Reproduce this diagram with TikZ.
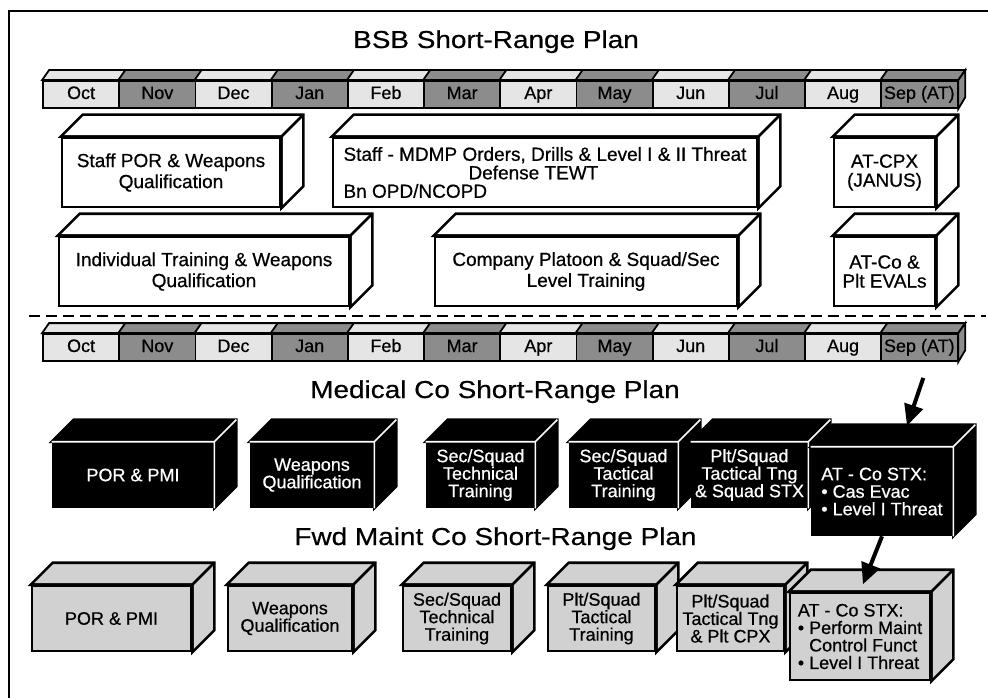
\documentclass[tikz,border=0pt]{standalone}
\usepackage{fontspec}
\setmainfont{Liberation Sans}[FakeBold=0.6]
\newfontfamily\titlefamily[FakeStretch=1.14, FakeBold=0.5]{Liberation Sans}
\usetikzlibrary{arrows.meta,positioning,calc}

\colorlet{lgray}{black!10}
\colorlet{dgray}{black!45}
\colorlet{fgray}{black!18}
\colorlet{cell1}{lgray}
\colorlet{cell0}{dgray}

\newcommand{\topfnt}{\fontsize{19}{21}\selectfont}
\newcommand{\lowfnt}{\fontsize{18}{17.5}\selectfont}
\newcommand{\monthfnt}{\fontsize{18}{20}\selectfont}
\newcommand{\titlefnt}{\titlefamily\fontsize{24.5}{28}\selectfont}

% side and top face of a box, drawn after its front node
\newcommand{\boxfaces}[3]{%
  \filldraw[#2] (#1.north west) -- ++(22,-22) -- ($(#1.north east)+(22,-22)$)
    -- ($(#1.south east)+(22,-22)$) -- (#1.south east) -- (#1.north east) -- cycle;
  \draw[#3] (#1.north west) -- (#1.north east) -- (#1.south east)
    (#1.north east) -- ++(22,-22);}

\begin{document}
\begin{tikzpicture}[x=1pt, y=-1pt, >=Stealth,
    title/.style={anchor=base, font=\titlefnt},
    month/.style={draw, line width=1.8pt, minimum width=76.2, minimum height=27, inner sep=0pt,
      text height=12.5pt, text depth=3.5pt, font=\monthfnt},
    monthedge/.style={draw=black, line width=1.8pt},
    wbox/.style={draw, fill=white, line width=2.6pt, inner sep=0pt, align=center, font=\topfnt, minimum height=69},
    wface/.style={fill=white, draw=black, line width=2.6pt},
    wedge/.style={draw=black, line width=2.6pt},
    medbox/.style={draw, fill=black, text=white, line width=2.6pt, inner sep=0pt, align=center, font=\lowfnt, minimum height=64},
    medface/.style={fill=black, draw=black, line width=2.6pt},
    medge/.style={draw=white, line width=1.6pt},
    fwdbox/.style={draw, fill=fgray, line width=2.6pt, inner sep=0pt, align=center, font=\lowfnt, minimum height=65},
    fwdface/.style={fill=fgray, draw=black, line width=2.6pt},
    bigarrow/.style={-{Triangle[length=21pt,width=19pt]}, line width=4pt}]
  \useasboundingbox (0,0) rectangle (988,698);
  \draw[line width=2.8pt] (9,700) -- (9,11) -- (990,11);

  % month bars
  \foreach \r/\yc in {t/94.5, b/347.5}{
    \foreach \m [count=\i] in {Oct,Nov,Dec,Jan,Feb,Mar,Apr,May,Jun,Jul,Aug,{Sep (AT)}}{
      \pgfmathtruncatemacro{\k}{mod(\i,2)}
      \node[month, fill=cell\k] (\r\i) at ({43+76.2*(\i-0.5)},\yc) {\m};
      \filldraw[monthedge, fill=cell\k] (\r\i.north west) -- ++(7,-10)
        -- ($(\r\i.north east)+(7,-10)$) -- (\r\i.north east) -- cycle;
    }
    \filldraw[monthedge, fill=dgray] (\r12.north east) -- ++(7,-10) -- ++(0,27)
      -- (\r12.south east) -- cycle;
  }

  % BSB plan
  \node[title] (bsb) at (496,48) {BSB Short-Range Plan};
  \node[wbox, minimum width=218] (staff) at (171,172.5) {Staff POR \& Weapons\\Qualification};
  \boxfaces{staff}{wface}{wedge}
  \node[wbox, minimum width=424, align=left, font=\fontsize{19}{18.5}\selectfont] (mdmp) at (545,172.5)
    {Staff - MDMP Orders, Drills \& Level I \& II Threat\\\hspace*{125pt}Defense TEWT\\Bn OPD/NCOPD};
  \boxfaces{mdmp}{wface}{wedge}
  \node[wbox, minimum width=101, font=\fontsize{19}{19}\selectfont] (atcpx) at (884.5,172.5) {AT-CPX\\(JANUS)};
  \boxfaces{atcpx}{wface}{wedge}
  \node[wbox, minimum width=290] (indiv) at (204,271.5) {Individual Training \& Weapons\\Qualification};
  \boxfaces{indiv}{wface}{wedge}
  \node[wbox, minimum width=302] (coplt) at (586,271.5) {Company Platoon \& Squad/Sec\\Level Training};
  \boxfaces{coplt}{wface}{wedge}
  \node[wbox, minimum width=101, font=\fontsize{19}{19}\selectfont] (ateval) at (884.5,271.5) {AT-Co \&\\Plt EVALs};
  \boxfaces{ateval}{wface}{wedge}

  \draw[line width=2.6pt, dash pattern=on 11pt off 6pt] (29,316) -- (986,316);

  % Medical Co plan
  \node[title] (medt) at (495,398) {Medical Co Short-Range Plan};
  \node[medbox, minimum width=160] (m1) at (133,475) {POR \& PMI};
  \boxfaces{m1}{medface}{medge}
  \node[medbox, minimum width=122] (m2) at (312,475) {Weapons\\Qualification};
  \boxfaces{m2}{medface}{medge}
  \node[medbox, minimum width=107] (m3) at (480.5,475) {Sec/Squad\\Technical\\Training};
  \boxfaces{m3}{medface}{medge}
  \node[medbox, minimum width=107] (m4) at (623.5,475) {Sec/Squad\\Tactical\\Training};
  \boxfaces{m4}{medface}{medge}
  \node[medbox, minimum width=115] (m5) at (749.5,475) {Plt/Squad\\Tactical Tng\\\& Squad STX};
  \boxfaces{m5}{medface}{medge}
  \node[medbox, minimum width=140, minimum height=87, align=left] (m6) at (882,491.5)
    {AT - Co STX:\\\textbullet\ Cas Evac\\\textbullet\ Level I Threat};
  \boxfaces{m6}{medface}{medge}

  % Fwd Maint Co plan
  \node[title] (fwdt) at (495.5,545) {Fwd Maint Co Short-Range Plan};
  \node[fwdbox, minimum width=159] (f1) at (111.5,618.5) {POR \& PMI};
  \boxfaces{f1}{fwdface}{wedge}
  \node[fwdbox, minimum width=124] (f2) at (290,618.5) {Weapons\\Qualification};
  \boxfaces{f2}{fwdface}{wedge}
  \node[fwdbox, minimum width=108] (f3) at (457,618.5) {Sec/Squad\\Technical\\Training};
  \boxfaces{f3}{fwdface}{wedge}
  \node[fwdbox, minimum width=107] (f4) at (601.5,618.5) {Plt/Squad\\Tactical\\Training};
  \boxfaces{f4}{fwdface}{wedge}
  \node[fwdbox, minimum width=107] (f5) at (730.5,618.5) {Plt/Squad\\Tactical Tng\\\& Plt CPX};
  \boxfaces{f5}{fwdface}{wedge}
  \node[fwdbox, minimum width=140, minimum height=87, align=left] (f6) at (860,636.5)
    {AT - Co STX:\\\textbullet\ Perform Maint\\\phantom{\textbullet\ }Control Funct\\\textbullet\ Level I Threat};
  \boxfaces{f6}{fwdface}{wedge}

  % arrows
  \coordinate (sepmark) at ($(b12.south)+(4,16)$);
  \coordinate (m6top) at ($(m6.north)+(25,-21)$);
  \draw[bigarrow] (sepmark) -- (m6top);
  \draw[bigarrow, shorten >=8pt] (m6.south) -- (f6.north);
\end{tikzpicture}
\end{document}
